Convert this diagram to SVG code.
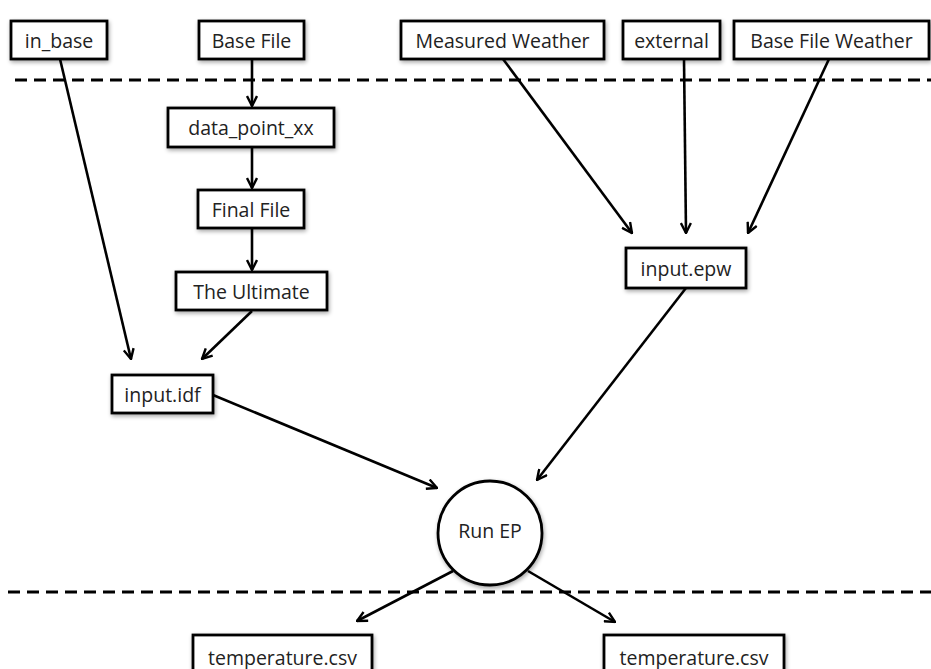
<svg xmlns="http://www.w3.org/2000/svg" width="931" height="669" viewBox="0 0 931 669">
<defs>
<filter id="sh" x="-20%" y="-20%" width="140%" height="150%">
<feGaussianBlur in="SourceAlpha" stdDeviation="2"/>
<feOffset dx="1" dy="2" result="b"/>
<feComponentTransfer><feFuncA type="linear" slope="0.35"/></feComponentTransfer>
<feMerge><feMergeNode/><feMergeNode in="SourceGraphic"/></feMerge>
</filter>
<marker id="arr" viewBox="0 0 12 12" refX="11" refY="6" markerWidth="12" markerHeight="12" markerUnits="userSpaceOnUse" orient="auto">
<polyline points="1,1 11,6 1,11" fill="none" stroke="#000" stroke-width="2.4"/>
</marker>
</defs>
<style>
.box{fill:#fff;stroke:#000;stroke-width:2.8;filter:url(#sh)}
.t{font-family:"Open Sans","Liberation Sans",sans-serif;font-size:19.5px;fill:#222;text-anchor:middle;dominant-baseline:central}
.c{fill:none;stroke:#000;stroke-width:2.6;marker-end:url(#arr)}
.d{stroke:#000;stroke-width:3;stroke-dasharray:12 7;fill:none}
</style>
<rect width="931" height="669" fill="#fff"/>
<g id="dividers">
<line class="d" x1="15" y1="80" x2="931" y2="80"/>
<line class="d" x1="8" y1="592" x2="931" y2="592"/>
</g>
<g id="connectors">
<line class="c" x1="60" y1="59" x2="131" y2="359"/>
<line class="c" x1="252" y1="59" x2="252" y2="106"/>
<line class="c" x1="252" y1="147" x2="252" y2="188"/>
<line class="c" x1="252" y1="228" x2="252" y2="270"/>
<line class="c" x1="252" y1="311" x2="202" y2="359"/>
<line class="c" x1="213" y1="395" x2="437" y2="488"/>
<line class="c" x1="686" y1="288" x2="537" y2="480"/>
<line class="c" x1="503" y1="59" x2="632" y2="233"/>
<line class="c" x1="684" y1="59" x2="686" y2="233"/>
<line class="c" x1="829" y1="59" x2="748" y2="233"/>
<line class="c" x1="453" y1="571" x2="357" y2="621"/>
<line class="c" x1="528" y1="571" x2="615" y2="622"/>
</g>
<g id="in_base"><rect class="box" x="11" y="21" width="96" height="38"/><text class="t" x="59" y="40">in_base</text></g>
<g id="base_file"><rect class="box" x="199" y="21" width="105" height="38"/><text class="t" x="251.5" y="40">Base File</text></g>
<g id="measured_weather"><rect class="box" x="401" y="21" width="203" height="38"/><text class="t" x="502.5" y="40">Measured Weather</text></g>
<g id="external"><rect class="box" x="623" y="21" width="97" height="38"/><text class="t" x="671.5" y="40">external</text></g>
<g id="base_file_weather"><rect class="box" x="734" y="21" width="195" height="38"/><text class="t" x="831.5" y="40">Base File Weather</text></g>
<g id="data_point_xx"><rect class="box" x="168" y="108" width="166" height="39"/><text class="t" x="251" y="127.5">data_point_xx</text></g>
<g id="final_file"><rect class="box" x="198" y="190" width="106" height="38"/><text class="t" x="251" y="209">Final File</text></g>
<g id="the_ultimate"><rect class="box" x="176" y="272" width="151" height="38"/><text class="t" x="251.5" y="291">The Ultimate</text></g>
<g id="input_idf"><rect class="box" x="112" y="375" width="101" height="38"/><text class="t" x="162.5" y="394">input.idf</text></g>
<g id="input_epw"><rect class="box" x="626" y="248" width="120" height="40"/><text class="t" x="686" y="268">input.epw</text></g>
<g id="run_ep"><circle class="box" cx="490" cy="533" r="52"/><text class="t" x="490" y="530">Run EP</text></g>
<g id="temp_csv_1"><rect class="box" x="193" y="635" width="179" height="44"/><text class="t" x="282.5" y="657">temperature.csv</text></g>
<g id="temp_csv_2"><rect class="box" x="604" y="635" width="180" height="44"/><text class="t" x="694" y="657">temperature.csv</text></g>
</svg>
